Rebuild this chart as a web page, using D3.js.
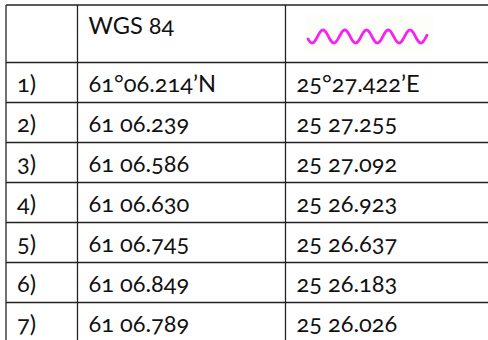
<!DOCTYPE html>
<html>
<head>
<script src="https://d3js.org/d3.v7.min.js"></script>
<style>
  body{ margin:0; background:#fff; }
  .cell text{
    font-family: Lato, sans-serif;
    font-size: 23.6px;
    font-variant-numeric: oldstyle-nums;
    fill: #111;
  }
  .grid line{ stroke:#222; stroke-width:1.3; }
</style>
</head>
<body>
<div id="table"></div>
<script>
  var headers = ["", "WGS 84", ""];
  var rowLabels = ["1)", "2)", "3)", "4)", "5)", "6)", "7)"];
  var latitudes = ["61°06.214’N", "61 06.239", "61 06.586", "61 06.630", "61 06.745", "61 06.849", "61 06.789"];
  var longitudes = ["25°27.422’E", "25 27.255", "25 27.092", "25 26.923", "25 26.637", "25 26.183", "25 26.026"];

  var W = 488, H = 340;
  var colX = [6, 77.5, 285.5, 492];     // column edges
  var topY = 5, headH = 57.5, rowH = 40;

  var svg = d3.select("#table").append("svg")
    .attr("width", W).attr("height", H);

  var y = d3.scaleLinear()
    .domain([0, rowLabels.length])
    .range([topY + headH, topY + headH + rowH * rowLabels.length]);

  // faint box behind the wave icon
  svg.append("rect")
    .attr("x", 305).attr("y", 15).attr("width", 128).attr("height", 38)
    .attr("fill", "#fdfdf9");

  // wave icon in the header
  var wave = d3.range(308, 427.5, 0.5).map(function(x){
    return [x, 36.5 - 6.5 * Math.cos(2 * Math.PI * (x - 323) / 21.75)];
  });
  svg.append("path")
    .attr("d", d3.line()(wave))
    .attr("fill", "none")
    .attr("stroke", "#f522f2")
    .attr("stroke-width", 2.8)
    .attr("stroke-linecap", "round");

  var g = svg.append("g").attr("class", "cell");

  g.selectAll(".head")
    .data(headers).enter()
    .append("text")
    .attr("class", "head")
    .attr("x", function(d, i){ return colX[i] + 11; })
    .attr("y", topY + 28.5)
    .text(function(d){ return d; });

  var rows = rowLabels.map(function(l, i){ return [l, latitudes[i], longitudes[i]]; });

  g.selectAll(".row")
    .data(rows).enter()
    .append("g")
    .attr("class", "row")
    .attr("transform", function(d, i){ return "translate(0," + y(i) + ")"; })
    .selectAll("text")
    .data(function(d){ return d; }).enter()
    .append("text")
    .attr("x", function(d, i){ return colX[i] + 11; })
    .attr("y", 29.5)
    .text(function(d){ return d; });

  var grid = svg.append("g").attr("class", "grid");

  // horizontal rules
  grid.selectAll(".h")
    .data([topY].concat(d3.range(rowLabels.length + 1).map(y))).enter()
    .append("line")
    .attr("x1", colX[0]).attr("x2", colX[3])
    .attr("y1", function(d){ return d; })
    .attr("y2", function(d){ return d; });

  // vertical rules
  grid.selectAll(".v")
    .data(colX).enter()
    .append("line")
    .attr("x1", function(d){ return d; })
    .attr("x2", function(d){ return d; })
    .attr("y1", topY).attr("y2", y(rowLabels.length));
</script>
</body>
</html>
